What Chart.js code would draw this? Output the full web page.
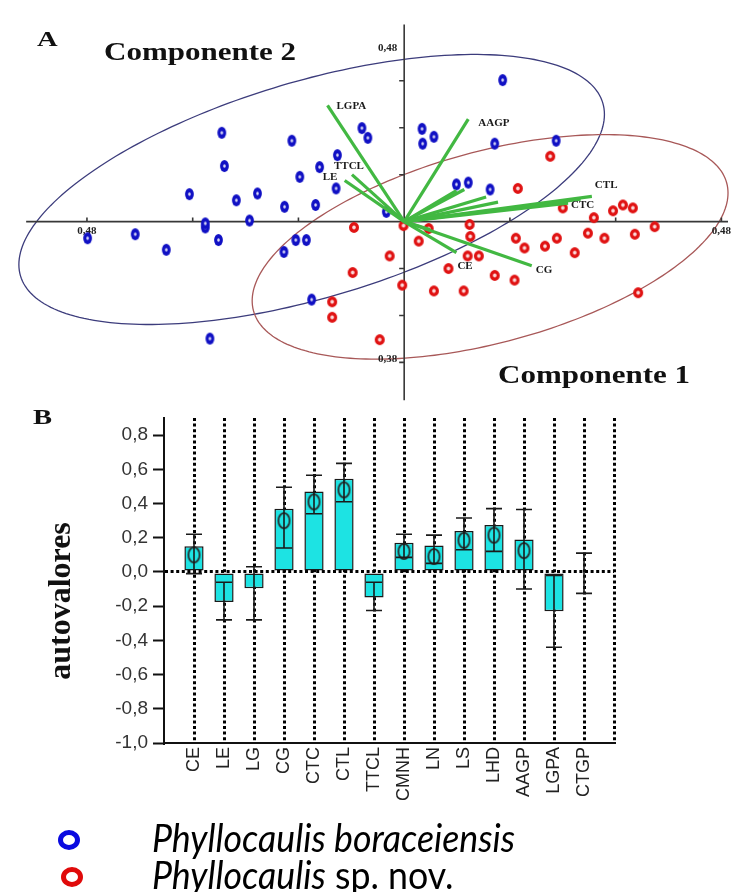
<!DOCTYPE html>
<html>
<head>
<meta charset="utf-8">
<script src="https://cdn.jsdelivr.net/npm/chart.js@4/dist/chart.umd.min.js"></script>
<style>
  body { margin: 0; width: 735px; height: 892px; position: relative; background: #fff; overflow: hidden; }
  canvas { position: absolute; left: 0; }
  .t { position: absolute; white-space: nowrap; color: #111; transform-origin: left center; }
  .serif { font-family: "Liberation Serif", "Times New Roman", serif; font-weight: bold; }
  .leg { font-family: Lato, "Noto Sans", sans-serif; font-size: 38px; line-height: 38px; color: #000; }
  .ring { position: absolute; width: 12px; height: 10px; border-radius: 50%; border: 5px solid; }
</style>
</head>
<body>
<canvas id="pca" width="735" height="410" style="top:0"></canvas>
<canvas id="bars" width="735" height="420" style="top:395px"></canvas>

<div class="t serif" style="left:37px;top:28px;font-size:22px;line-height:22px;transform:scaleX(1.3)">A</div>
<div class="t serif" style="left:104px;top:39px;font-size:25px;line-height:25px;transform:scaleX(1.24)">Componente 2</div>
<div class="t serif" style="left:498px;top:362px;font-size:25px;line-height:25px;transform:scaleX(1.24)">Componente 1</div>
<div class="t serif" style="left:33px;top:406px;font-size:22px;line-height:22px;transform:scaleX(1.3)">B</div>
<div class="t serif" style="left:59px;top:601px;font-size:32px;line-height:32px;transform:translate(-50%,-50%) rotate(-90deg);transform-origin:center">autovalores</div>

<div class="ring" style="left:58px;top:830px;border-color:#0a0ae0"></div>
<div class="t leg" style="left:152px;top:818px;transform:scaleX(0.94)"><i>Phyllocaulis boraceiensis</i></div>
<div class="ring" style="left:61px;top:867px;border-color:#e00a0a"></div>
<div class="t leg" style="left:152px;top:855px;transform:scaleX(0.94)"><i>Phyllocaulis</i> sp. nov.</div>

<script>
// ---- Painel A: escores (PCA) ----
const borX = [0.149, -0.064, -0.055, 0.027, 0.045, 0.028, 0.137, 0.230, -0.276, -0.170, -0.101, -0.272,
  -0.128, -0.158, -0.103, -0.325, -0.254, -0.222, -0.181, -0.134, 0.079, 0.097, 0.130, -0.027,
  -0.234, -0.301, -0.479, -0.407, -0.281, -0.360, -0.164, -0.148, -0.182, -0.140, -0.294, -0.301];
const borY = [0.392, 0.259, 0.232, 0.257, 0.235, 0.216, 0.216, 0.224, 0.246, 0.224, 0.184, 0.154,
  0.151, 0.124, 0.092, 0.076, 0.059, 0.078, 0.041, 0.046, 0.103, 0.108, 0.089, 0.027,
  0.003, -0.016, -0.046, -0.035, -0.051, -0.078, -0.051, -0.051, -0.084, -0.216, -0.324, -0.005];

const novX = [0.221, 0.172, 0.240, 0.316, 0.331, 0.346, 0.287, 0.379, -0.076, -0.001, 0.037, 0.099,
  0.022, 0.100, 0.169, 0.182, 0.213, 0.231, 0.278, 0.303, 0.349, 0.258, -0.022, 0.096,
  0.113, -0.078, 0.067, -0.003, 0.137, 0.167, 0.045, 0.090, -0.109, -0.109, 0.354, -0.037];
const novY = [0.181, 0.092, 0.038, 0.030, 0.046, 0.038, 0.011, -0.014, -0.016, -0.011, -0.019, -0.008,
  -0.054, -0.041, -0.046, -0.073, -0.068, -0.046, -0.032, -0.046, -0.035, -0.086, -0.095, -0.095,
  -0.095, -0.141, -0.130, -0.176, -0.149, -0.162, -0.192, -0.192, -0.222, -0.265, -0.197, -0.327];

// variáveis (mesma ordem do painel B)
const categories = ['CE', 'LE', 'LG', 'CG', 'CTC', 'CTL', 'TTCL', 'CMNH', 'LN', 'LS', 'LHD', 'AAGP', 'LGPA', 'CTGP'];
const vecX = [0.079, -0.090, 0.039, 0.193, 0.248, 0.284, -0.079, 0.091, 0.079, 0.124, 0.142, 0.097, -0.116, 0.267];
const vecY = [-0.086, 0.114, -0.022, -0.122, 0.051, 0.070, 0.130, 0.089, 0.086, 0.068, 0.054, 0.284, 0.322, 0.062];
const vecLabeled = ['CE', 'LE', 'CG', 'CTC', 'CTL', 'TTCL', 'AAGP', 'LGPA'];

// elipses: boraceiensis, sp. nov.
const ellipseCX = [-0.140, 0.130];
const ellipseCY = [0.089, -0.070];
const ellipseRX = [0.443, 0.360];
const ellipseRY = [0.374, 0.311];
const ellipseCorr = [0.556, 0.48];

const axisXRange = [-0.572, 0.490];
const axisYRange = [-0.495, 0.546];
const axisXTicks = [-0.48, -0.32, -0.16, 0.16, 0.32, 0.48];
const axisYTicks = [-0.39, -0.26, -0.13, 0.13, 0.26, 0.39];
const axisXLabels = [-0.48, 0.48];
const axisYLabels = [0.48, -0.38];

// ---- Painel B: autovalores ----
const eigen = [0.15, -0.175, -0.095, 0.37, 0.47, 0.545, -0.15, 0.17, 0.155, 0.24, 0.275, 0.19, -0.23, 0];
const errLow = [-0.01, -0.28, -0.28, 0.14, 0.34, 0.41, -0.225, 0.085, 0.05, 0.13, 0.12, -0.10, -0.44, -0.125];
const errHigh = [0.22, -0.06, 0.03, 0.495, 0.565, 0.635, -0.06, 0.22, 0.215, 0.315, 0.37, 0.365, -0.02, 0.11];
const means = [0.10, null, null, 0.30, 0.41, 0.48, null, 0.12, 0.09, 0.185, 0.215, 0.125, null, null];
const yTickValues = [-1.0, -0.8, -0.6, -0.4, -0.2, 0.0, 0.2, 0.4, 0.6, 0.8];

// estilo
const labelOffset = { CE: [1, 14], LE: [-22, -3], CG: [4, 5], CTC: [3, 2], CTL: [3, -11], TTCL: [-18, -9], AAGP: [10, 4], LGPA: [9, 1] };
const ellipseColor = ['#3c3c7c', '#a85858'];
const vectorColor = '#42b842';
const barFill = '#1de3e3';

function ovalMarker(color, rx, ry, hole) {
  const c = document.createElement('canvas');
  c.width = Math.ceil(rx * 2 + 2);
  c.height = Math.ceil(ry * 2 + 2);
  const g = c.getContext('2d');
  g.fillStyle = color;
  g.beginPath(); g.ellipse(c.width / 2, c.height / 2, rx, ry, 0, 0, Math.PI * 2); g.fill();
  g.fillStyle = 'rgba(255,255,255,0.85)';
  g.beginPath(); g.ellipse(c.width / 2, c.height / 2, rx * hole, ry * hole, 0, 0, Math.PI * 2); g.fill();
  return c;
}

function ringMarker() {
  const c = document.createElement('canvas');
  c.width = 15; c.height = 19;
  const g = c.getContext('2d');
  g.strokeStyle = '#262626';
  g.lineWidth = 1.7;
  g.beginPath(); g.ellipse(7.5, 9.5, 5.6, 7.6, 0, 0, Math.PI * 2); g.stroke();
  return c;
}

const fmt = v => Math.abs(v).toFixed(2).replace('.', ',');

const biplotDecor = {
  id: 'biplotDecor',
  beforeDatasetsDraw(chart) {
    const { ctx, scales: { x, y } } = chart;
    const ox = x.getPixelForValue(0), oy = y.getPixelForValue(0);
    ctx.save();
    // elipses
    ctx.lineWidth = 1.3;
    ellipseCX.forEach((cx, k) => {
      const phi = Math.acos(ellipseCorr[k]);
      ctx.strokeStyle = ellipseColor[k];
      ctx.beginPath();
      for (let s = 0; s <= 240; s++) {
        const t = s / 240 * 2 * Math.PI;
        const px = x.getPixelForValue(cx + ellipseRX[k] * Math.cos(t));
        const py = y.getPixelForValue(ellipseCY[k] + ellipseRY[k] * Math.cos(t - phi));
        s ? ctx.lineTo(px, py) : ctx.moveTo(px, py);
      }
      ctx.closePath();
      ctx.stroke();
    });
    // eixos
    ctx.strokeStyle = '#383838';
    ctx.lineWidth = 1.6;
    ctx.beginPath();
    ctx.moveTo(x.getPixelForValue(axisXRange[0]), oy); ctx.lineTo(x.getPixelForValue(axisXRange[1]), oy);
    ctx.moveTo(ox, y.getPixelForValue(axisYRange[0])); ctx.lineTo(ox, y.getPixelForValue(axisYRange[1]));
    axisXTicks.forEach(v => { const p = x.getPixelForValue(v); ctx.moveTo(p, oy); ctx.lineTo(p, oy - 4); });
    axisYTicks.forEach(v => { const p = y.getPixelForValue(v); ctx.moveTo(ox, p); ctx.lineTo(ox - 5, p); });
    ctx.stroke();
    ctx.fillStyle = '#222';
    ctx.font = 'bold 11px "Liberation Serif", serif';
    ctx.textAlign = 'center';
    ctx.textBaseline = 'top';
    axisXLabels.forEach(v => ctx.fillText(fmt(v), x.getPixelForValue(v), oy + 4));
    ctx.textAlign = 'right';
    ctx.textBaseline = 'middle';
    axisYLabels.forEach(v => ctx.fillText(fmt(v), ox - 7, y.getPixelForValue(v)));
    ctx.restore();
  },
  afterDatasetsDraw(chart) {
    const { ctx, scales: { x, y } } = chart;
    const ox = x.getPixelForValue(0), oy = y.getPixelForValue(0);
    ctx.save();
    ctx.strokeStyle = vectorColor;
    ctx.lineWidth = 3.2;
    categories.forEach((c, i) => {
      ctx.beginPath();
      ctx.moveTo(ox, oy);
      ctx.lineTo(x.getPixelForValue(vecX[i]), y.getPixelForValue(vecY[i]));
      ctx.stroke();
    });
    ctx.fillStyle = '#1a1a1a';
    ctx.font = 'bold 11px "Liberation Serif", serif';
    ctx.textAlign = 'left';
    ctx.textBaseline = 'middle';
    categories.forEach((c, i) => {
      if (!vecLabeled.includes(c)) return;
      const [dx, dy] = labelOffset[c];
      ctx.fillText(c, x.getPixelForValue(vecX[i]) + dx, y.getPixelForValue(vecY[i]) + dy);
    });
    ctx.restore();
  }
};

new Chart(document.getElementById('pca'), {
  type: 'scatter',
  data: {
    datasets: [
      { label: 'Phyllocaulis boraceiensis', data: borX.map((v, i) => ({ x: v, y: borY[i] })), pointStyle: ovalMarker('#1010c4', 4.4, 6, 0.3) },
      { label: 'Phyllocaulis sp. nov.', data: novX.map((v, i) => ({ x: v, y: novY[i] })), pointStyle: ovalMarker('#e01212', 5, 5.4, 0.36) }
    ]
  },
  options: {
    responsive: false,
    animation: false,
    events: [],
    layout: { padding: 0 },
    plugins: { legend: { display: false }, tooltip: { enabled: false } },
    scales: {
      x: { display: false, min: -0.604, max: 0.493 },
      y: { display: false, min: -0.508, max: 0.6 }
    }
  },
  plugins: [biplotDecor]
});

const errorBars = {
  id: 'errorBars',
  afterDatasetsDraw(chart) {
    const { ctx, scales: { x, y } } = chart;
    ctx.save();
    ctx.strokeStyle = '#1a1a1a';
    ctx.lineWidth = 1.6;
    categories.forEach((c, i) => {
      const px = x.getPixelForValue(i + 1);
      const top = y.getPixelForValue(errHigh[i]);
      const bot = y.getPixelForValue(errLow[i]);
      ctx.beginPath();
      ctx.moveTo(px, top); ctx.lineTo(px, bot);
      ctx.moveTo(px - 8, top); ctx.lineTo(px + 8, top);
      ctx.moveTo(px - 8, bot); ctx.lineTo(px + 8, bot);
      ctx.stroke();
    });
    ctx.restore();
  }
};

const pad = arr => [null, ...arr, null];
const dots = [3, 2.6];

new Chart(document.getElementById('bars'), {
  type: 'bar',
  data: {
    labels: ['', ...categories, ''],
    datasets: [
      { type: 'line', label: 'média', data: pad(means), showLine: false, pointStyle: ringMarker(), order: 0 },
      { type: 'bar', label: 'autovalores', data: pad(eigen), backgroundColor: barFill, borderColor: '#1a1a1a',
        borderWidth: 1.5, borderSkipped: false, barPercentage: 0.64, categoryPercentage: 1, order: 1 }
    ]
  },
  options: {
    responsive: false,
    animation: false,
    events: [],
    layout: { padding: { left: 0, right: 121, top: 23, bottom: 12 } },
    plugins: { legend: { display: false }, tooltip: { enabled: false } },
    scales: {
      x: {
        offset: false,
        grid: { offset: false, color: c => c.index === 0 ? 'rgba(0,0,0,0)' : '#000', lineWidth: 3, drawTicks: false, borderDash: dots },
        border: { display: true, color: '#111', width: 2, dash: dots },
        ticks: { autoSkip: false, minRotation: 90, maxRotation: 90, padding: 4, color: '#222',
          font: { family: '"Liberation Sans", Arial, sans-serif', size: 18 } },
        afterFit: s => { s.height = 60; }
      },
      y: {
        min: -1,
        max: 0.9,
        afterBuildTicks: s => { s.ticks = yTickValues.map(v => ({ value: v })); },
        grid: { color: c => (c.tick && c.tick.value === 0) ? '#000' : 'rgba(0,0,0,0)', lineWidth: 3,
          tickLength: 11, tickColor: '#111', tickWidth: 2, borderDash: dots },
        border: { display: true, color: '#111', width: 2, dash: dots },
        ticks: { padding: 5, color: '#333', font: { family: '"Liberation Sans", Arial, sans-serif', size: 19 },
          callback: v => v.toFixed(1).replace('.', ',') },
        afterFit: s => { s.width = 164; }
      }
    }
  },
  plugins: [errorBars]
});
</script>
</body>
</html>
